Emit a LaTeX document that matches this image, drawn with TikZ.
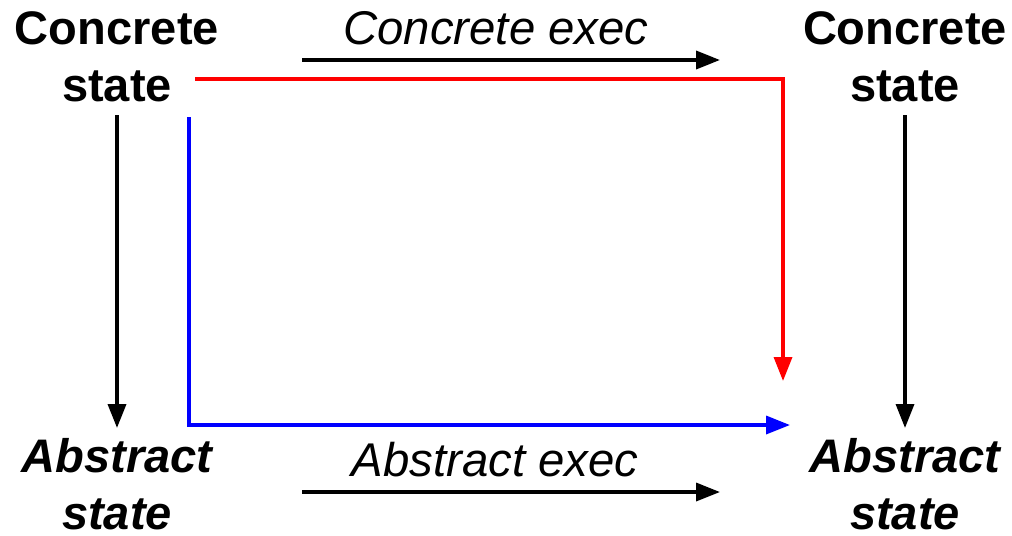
\documentclass[tikz,border=0pt]{standalone}
\usepackage{fontspec}
\setmainfont{Liberation Sans}
\usetikzlibrary{arrows.meta}
\begin{document}
\begin{tikzpicture}[x=0.75pt,y=-0.75pt,
  statebox/.style={align=center,inner sep=0pt,font=\fontsize{35.3}{42.75}\selectfont\bfseries},
  execlabel/.style={inner sep=0pt,font=\fontsize{35.5}{42}\selectfont\itshape},
  conn/.style={line width=2.6pt,-{Triangle[length=18pt,width=13.5pt]}}]
\useasboundingbox (0,0) rectangle (1012,535);
\node[statebox] (cs1) at (117,57) {Concrete\\state};
\node[statebox] (cs2) at (905,57) {Concrete\\state};
\node[statebox,font=\fontsize{35.3}{42.75}\selectfont\bfseries\itshape] (as1) at (117,484) {Abstract\\state};
\node[statebox,font=\fontsize{35.3}{42.75}\selectfont\bfseries\itshape] (as2) at (905,484) {Abstract\\state};
\node[execlabel] (ce) at (496,28) {Concrete exec};
\node[execlabel] (ae) at (495,460) {Abstract exec};
\coordinate (ceS) at (302,60);
\coordinate (ceE) at (720,60);
\coordinate (aeS) at (302,492);
\coordinate (aeE) at (720,492);
\coordinate (lS) at (117,115);
\coordinate (lE) at (117,428);
\coordinate (rS) at (905,115);
\coordinate (rE) at (905,428);
\coordinate (redS) at (195,79);
\coordinate (redC) at (783,79);
\coordinate (redE) at (783,381);
\coordinate (blueS) at (189,117);
\coordinate (blueC) at (189,425);
\coordinate (blueE) at (790,425);
\draw[conn] (ceS) -- (ceE);
\draw[conn] (aeS) -- (aeE);
\draw[conn] (lS) -- (lE);
\draw[conn] (rS) -- (rE);
\draw[conn,red] (redS) -- (redC) -- (redE);
\draw[conn,blue] (blueS) -- (blueC) -- (blueE);
\end{tikzpicture}
\end{document}
